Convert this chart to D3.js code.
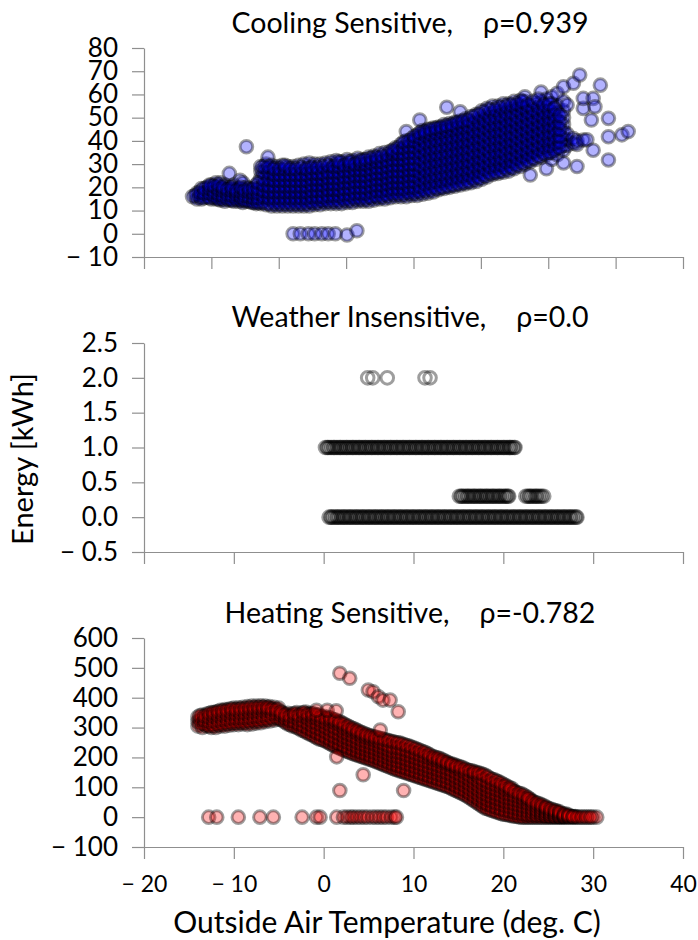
<!DOCTYPE html>
<html>
<head>
<meta charset="utf-8">
<script src="https://cdn.jsdelivr.net/npm/d3@7"></script>
<style>
  body { margin: 0; background: #fff; }
  svg text { font-family: Lato, "Open Sans", sans-serif; fill: #000; }
  .axis path, .axis line { stroke: #8f8f8f; stroke-width: 1.2; }
</style>
</head>
<body>
<div id="chart"></div>
<script>
// ---- data: [temperature, [energy values at that temperature]] ----
const coolingColumns = [
  [-14.6, [16]], [-14.1, [15, 17.5]], [-13.6, [15, 17, 19.5]], [-13.0, [16, 18, 20]],
  [-12.5, [15, 17, 19, 21]], [-12.0, [15, 16.5, 18, 20, 22]], [-11.5, [14.5, 16, 18, 20, 22]],
  [-11.0, [14, 16, 17.5, 19, 21]], [-10.5, [14.5, 16, 18, 20, 26]], [-10.0, [14, 15.5, 17, 19, 21]],
  [-9.5, [14, 16, 17.5, 19.5]], [-9.3, [23]], [-9.0, [13.5, 15, 17, 19, 22]], [-8.6, [14, 16, 18, 20, 37.5]],
  [-8.0, [13.5, 15, 17, 19]], [-7.5, [13, 14.5, 16.5, 18.5, 21]],
  [-7.0, [13, 15.5, 18, 24, 27, 29]], [-6.4, [12.5, 15, 17.5, 20, 22.5, 25.5, 28, 30]], [-6.2, [33]],
  [-5.8, [12, 14.5, 17, 19.5, 22, 25, 28, 29.5]], [-5.2, [12, 14, 16.5, 19, 21.5, 24, 26.5, 29]],
  [-4.6, [12, 14.5, 17, 19.5, 22, 24.5, 27, 29.5]], [-4.0, [12, 14, 16.5, 19, 21.5, 24, 26.5, 29]],
  [-3.4, [0, 12, 14.5, 17, 19.5, 22, 24.5, 27, 29]], [-2.8, [12, 14, 16.5, 19, 21.5, 24, 26.5, 29.5]],
  [-2.6, [0]], [-2.2, [12, 14.5, 17, 19.5, 22, 24.5, 27, 30]], [-1.7, [0]],
  [-1.6, [12, 14, 16.5, 19, 21.5, 24, 26.5, 29, 30.5]], [-1.0, [0, 12.5, 15, 17.5, 20, 22.5, 25, 27.5, 30]],
  [-0.4, [12.5, 14.5, 17, 19.5, 22, 24.5, 27, 30]], [-0.2, [0]], [0.2, [13, 15, 17.5, 20, 22.5, 25, 27.5, 30.5]],
  [0.5, [0]], [0.8, [13, 15.5, 18, 20.5, 23, 25.5, 28, 31]], [1.3, [0]],
  [1.4, [13, 15, 17.5, 20, 22.5, 25, 27.5, 30, 31.5]], [2.0, [13, 15.5, 18, 20.5, 23, 25.5, 28, 31]],
  [2.6, [-0.5, 13.5, 15.5, 18, 20.5, 23, 25.5, 28, 30.5, 32]], [3.2, [13.5, 16, 18.5, 21, 23.5, 26, 28.5, 31.5]],
  [3.7, [1.3]], [3.8, [14, 16, 18.5, 21, 23.5, 26, 28.5, 31, 32.5]], [4.4, [14, 16.5, 19, 21.5, 24, 26.5, 29, 32]],
  [5.0, [14, 16, 18.5, 21, 23.5, 26, 28.5, 31, 33]], [5.6, [14.5, 16.5, 19, 21.5, 24, 26.5, 29, 31.5, 33.5]],
  [6.2, [15, 17.5, 20, 22.5, 25, 27.5, 30, 32.5, 34.5]], [6.8, [15, 17, 19.5, 22, 24.5, 27, 29.5, 32, 35]],
  [7.4, [15.5, 18, 20.5, 23, 25.5, 28, 30.5, 33, 35.5]], [8.0, [16, 18, 20.5, 23, 25.5, 28, 30.5, 33, 35.5, 37]],
  [8.6, [16, 18.5, 21, 23.5, 26, 28.5, 31, 33.5, 36, 38.5]],
  [9.2, [16, 18, 20.5, 23, 25.5, 28, 30.5, 33, 35.5, 38, 40, 44]],
  [9.8, [16.5, 19, 21.5, 24, 26.5, 29, 31.5, 34, 36.5, 39, 41]],
  [10.4, [16.5, 18.5, 21, 23.5, 26, 28.5, 31, 33.5, 36, 38.5, 41, 42.5]], [10.7, [49]],
  [11.0, [17, 19.5, 22, 25, 28, 31, 34, 37, 40, 43, 44.5]],
  [11.6, [17.5, 20, 23, 26, 29, 32, 35, 38, 41, 43.5, 45]],
  [12.2, [18, 20.5, 23.5, 26.5, 29.5, 32.5, 35.5, 38.5, 41.5, 44, 45.5]],
  [12.8, [19, 21.5, 24.5, 27.5, 30.5, 33.5, 36.5, 39.5, 42.5, 45, 46]],
  [13.4, [19.5, 22, 25, 28, 31, 34, 37, 40, 43, 45.5, 47]], [13.7, [54.5]],
  [14.0, [20, 22.5, 25.5, 28.5, 31.5, 34.5, 37.5, 40.5, 43.5, 46, 47.5]],
  [14.6, [20.5, 23, 26, 29, 32, 35, 38, 41, 44, 46.5, 48]],
  [15.2, [21, 23.5, 26.5, 29.5, 32.5, 35.5, 38.5, 41.5, 44.5, 47, 48.5, 52.5]],
  [15.8, [21.5, 24, 27, 30, 33, 36, 39, 42, 45, 47.5, 49.5]],
  [16.4, [22, 24.5, 27.5, 30.5, 33.5, 36.5, 39.5, 42.5, 45.5, 48, 50.5]],
  [17.0, [22.5, 25, 28, 31, 34, 37, 40, 43, 46, 49, 51.5]],
  [17.6, [23.5, 26, 29, 32, 35, 38, 41, 44, 47, 50, 53]],
  [18.2, [24.5, 27, 30, 33, 36, 39, 42, 45, 48, 51, 54]],
  [18.8, [25.5, 28, 31, 34, 37, 40, 43, 46, 49, 52, 55]],
  [19.4, [26, 28.5, 31.5, 34.5, 37.5, 40.5, 43.5, 46.5, 49.5, 52.5, 55]],
  [20.0, [26.5, 29, 32, 35, 38, 41, 44, 47, 50, 53, 56]],
  [20.6, [27, 29.5, 32.5, 35.5, 38.5, 41.5, 44.5, 47.5, 50.5, 53.5, 56]],
  [21.2, [28, 30.5, 33.5, 36.5, 39.5, 42.5, 45.5, 48.5, 51.5, 54.5, 57]],
  [21.9, [29, 32, 35, 38, 41, 44, 47, 50, 53, 55.5, 57.5]],
  [22.4, [30, 33, 36, 39, 42, 45, 48, 51, 54, 57, 59]],
  [23.0, [25.3, 31, 34, 37, 40, 43, 46, 49, 52, 55]],
  [23.6, [32, 35, 38, 41, 44, 47, 50, 53, 56]],
  [24.2, [33, 36, 39, 42, 45, 48, 51, 54, 57, 61]],
  [24.8, [28, 34, 37, 40, 43, 46, 49, 52, 55, 58]],
  [25.4, [32, 35, 38, 41, 44, 47, 50, 53, 56, 59]],
  [26.0, [34, 37, 40, 43, 46, 49, 52, 55, 60.5]],
  [26.7, [30.5, 36, 38, 41, 44, 47, 50, 53, 57, 63.3]],
  [27.1, [38, 40.5, 43, 55.5]], [27.8, [39, 41, 64.8]], [28.2, [29, 38.5, 40]], [28.5, [68.4]],
  [28.9, [40.4, 54, 58.3]], [29.3, [40.5]], [29.8, [49]], [30.0, [36, 58.3]], [30.2, [54.7]],
  [30.8, [64]], [31.7, [31.8, 41.8, 49.7]], [33.2, [42.6]], [33.9, [44]]
];
// the in-between columns of the dense band
const coolingColumnsFill = [
  [-14.3, [16.5]], [-13.8, [16, 18]], [-13.3, [15.5, 17.5, 19.5]], [-12.7, [15.5, 17.5, 19.5, 21]],
  [-12.2, [16, 18, 20.5]], [-11.7, [15, 17, 19, 21]], [-11.2, [15, 16.5, 18.5, 20]], [-10.7, [15, 17, 19]],
  [-10.2, [14.5, 16.5, 18.5, 20]], [-9.7, [15, 17, 18.5]], [-9.2, [14.5, 16, 18, 20]], [-8.8, [14.5, 16.5, 18.5]],
  [-8.3, [14, 16, 18, 19.5]], [-7.8, [13.5, 15.5, 17.5, 19.5]], [-7.3, [13.5, 15.5, 17.5, 19.5, 22]],
  [-6.7, [13.5, 16, 18.5, 21, 23.5, 26.5, 29]], [-6.1, [13, 15.5, 18, 20.5, 23.5, 26.5, 29]],
  [-5.5, [13, 15.5, 18, 20.5, 23, 25.5, 28]], [-4.9, [13, 15.5, 18, 20.5, 23, 25.5, 28]],
  [-4.3, [13, 15.5, 18, 20.5, 23, 25.5, 28, 29.5]], [-3.7, [13, 15.5, 18, 20.5, 23, 25.5, 28]],
  [-3.1, [13, 15.5, 18, 20.5, 23, 25.5, 28]], [-2.5, [13, 15.5, 18, 20.5, 23, 25.5, 28.5]],
  [-1.9, [13, 15.5, 18, 20.5, 23, 25.5, 28]], [-1.3, [13.5, 16, 18.5, 21, 23.5, 26, 28.5]],
  [-0.7, [13.5, 16, 18.5, 21, 23.5, 26, 28.5]], [-0.1, [14, 16, 18.5, 21, 23.5, 26, 29]],
  [0.5, [14, 16.5, 19, 21.5, 24, 26.5, 29.5]], [1.1, [14, 16.5, 19, 21.5, 24, 26.5, 29]],
  [1.7, [14, 16.5, 19, 21.5, 24, 26.5, 29, 31]], [2.3, [14.5, 17, 19.5, 22, 24.5, 27, 29.5]],
  [2.9, [14.5, 17, 19.5, 22, 24.5, 27, 29.5, 31]], [3.5, [15, 17.5, 20, 22.5, 25, 27.5, 30]],
  [4.1, [15, 17.5, 20, 22.5, 25, 27.5, 30, 31.5]], [4.7, [15, 17.5, 20, 22.5, 25, 27.5, 30, 32]],
  [5.3, [15.5, 18, 20.5, 23, 25.5, 28, 30.5, 32.5]], [5.9, [16, 18.5, 21, 23.5, 26, 28.5, 31, 33]],
  [6.5, [16, 18.5, 21, 23.5, 26, 28.5, 31, 33.5]], [7.1, [16.5, 19, 21.5, 24, 26.5, 29, 31.5, 34]],
  [7.7, [17, 19.5, 22, 24.5, 27, 29.5, 32, 34.5, 36]], [8.3, [17, 19.5, 22, 24.5, 27, 29.5, 32, 34.5, 37]],
  [8.9, [17, 19.5, 22, 24.5, 27, 29.5, 32, 34.5, 37, 39.5]],
  [9.5, [17.5, 20, 22.5, 25, 27.5, 30, 32.5, 35, 37.5, 40]],
  [10.1, [17.5, 20, 22.5, 25, 27.5, 30, 32.5, 35, 37.5, 40, 42]],
  [10.7, [18, 20.5, 23.5, 26.5, 29.5, 32.5, 35.5, 38.5, 41.5, 43.5]],
  [11.3, [18.5, 21.5, 24.5, 27.5, 30.5, 33.5, 36.5, 39.5, 42.5, 44]],
  [11.9, [19, 22, 25, 28, 31, 34, 37, 40, 43, 45]],
  [12.5, [19.5, 22.5, 25.5, 28.5, 31.5, 34.5, 37.5, 40.5, 43.5, 45.5]],
  [13.1, [20, 23, 26, 29, 32, 35, 38, 41, 44, 46]],
  [13.7, [20.5, 23.5, 26.5, 29.5, 32.5, 35.5, 38.5, 41.5, 44.5, 46.5]],
  [14.3, [21, 24, 27, 30, 33, 36, 39, 42, 45, 47]],
  [14.9, [21.5, 24.5, 27.5, 30.5, 33.5, 36.5, 39.5, 42.5, 45.5, 48]],
  [15.5, [22, 25, 28, 31, 34, 37, 40, 43, 46, 48.5]],
  [16.1, [22.5, 25.5, 28.5, 31.5, 34.5, 37.5, 40.5, 43.5, 46.5, 49]],
  [16.7, [23.5, 26.5, 29.5, 32.5, 35.5, 38.5, 41.5, 44.5, 47.5, 50.5]],
  [17.3, [24, 27, 30, 33, 36, 39, 42, 45, 48, 51.5]],
  [17.9, [25, 28, 31, 34, 37, 40, 43, 46, 49, 52.5]],
  [18.5, [26, 29, 32, 35, 38, 41, 44, 47, 50, 53.5]],
  [19.1, [26.5, 29.5, 32.5, 35.5, 38.5, 41.5, 44.5, 47.5, 50.5, 53.5]],
  [19.7, [27, 30, 33, 36, 39, 42, 45, 48, 51, 54.5]],
  [20.3, [28, 31, 34, 37, 40, 43, 46, 49, 52, 55]],
  [20.9, [28.5, 31.5, 34.5, 37.5, 40.5, 43.5, 46.5, 49.5, 52.5, 55.5]],
  [21.5, [29.5, 32.5, 35.5, 38.5, 41.5, 44.5, 47.5, 50.5, 53.5, 56]],
  [22.1, [30.5, 33.5, 36.5, 39.5, 42.5, 45.5, 48.5, 51.5, 54.5, 57]],
  [22.7, [31.5, 34.5, 37.5, 40.5, 43.5, 46.5, 49.5, 52.5, 55.5]],
  [23.3, [32.5, 35.5, 38.5, 41.5, 44.5, 47.5, 50.5, 53.5, 57]],
  [23.9, [33.5, 36.5, 39.5, 42.5, 45.5, 48.5, 51.5, 54.5, 58]],
  [24.5, [34.5, 37.5, 40.5, 43.5, 46.5, 49.5, 52.5, 55.5]],
  [25.1, [35, 38, 41, 44, 47, 50, 53, 56]],
  [25.7, [36, 39, 42, 45, 48, 51, 54]],
  [26.3, [37, 39.5, 42, 45, 48, 51]]
];

const weatherTwo = [4.9, 5.46, 7.08, 11.28, 11.84];
const weatherOne = [0.2, 0.4, 0.5, 0.7, 0.9, 1.1, 1.2, 1.4, 1.6, 1.8, 1.9, 2.1, 2.3, 2.5, 2.6, 2.8,
  3.0, 3.2, 3.3, 3.5, 3.7, 3.9, 4.0, 4.2, 4.4, 4.6, 4.7, 4.9, 5.1, 5.3, 5.4, 5.6, 5.8, 6.0, 6.1, 6.3,
  6.5, 6.7, 6.8, 7.0, 7.2, 7.4, 7.5, 7.7, 7.9, 8.1, 8.2, 8.4, 8.6, 8.8, 8.9, 9.1, 9.3, 9.5, 9.6, 9.8,
  10.0, 10.2, 10.3, 10.5, 10.7, 10.9, 11.0, 11.2, 11.4, 11.6, 11.7, 11.9, 12.1, 12.3, 12.4, 12.6,
  12.8, 13.0, 13.1, 13.3, 13.5, 13.7, 13.8, 14.0, 14.2, 14.4, 14.5, 14.7, 14.9, 15.1, 15.2, 15.4,
  15.6, 15.8, 15.9, 16.1, 16.3, 16.5, 16.6, 16.8, 17.0, 17.2, 17.3, 17.5, 17.7, 17.9, 18.0, 18.2,
  18.4, 18.6, 18.7, 18.9, 19.1, 19.3, 19.4, 19.6, 19.8, 20.0, 20.1, 20.3, 20.5, 20.7, 20.8, 21.0,
  21.2, 21.3];
const weatherPoint3 = [15.1, 15.3, 15.4, 15.6, 15.8, 16.0, 16.1, 16.3, 16.5, 16.7, 16.8, 17.0, 17.2,
  17.4, 17.5, 17.7, 17.9, 18.1, 18.2, 18.4, 18.6, 18.8, 18.9, 19.1, 19.3, 19.5, 19.6, 19.8, 20.0,
  20.2, 20.3, 20.5, 20.6, 22.5, 22.7, 22.9, 23.0, 23.2, 23.4, 23.6, 23.7, 23.9, 24.1, 24.3, 24.5];
const weatherZero = [0.6, 0.8, 0.9, 1.1, 1.3, 1.5, 1.6, 1.8, 2.0, 2.2, 2.3, 2.5, 2.7, 2.9, 3.0, 3.2,
  3.4, 3.6, 3.7, 3.9, 4.1, 4.3, 4.4, 4.6, 4.8, 5.0, 5.1, 5.3, 5.5, 5.7, 5.8, 6.0, 6.2, 6.4, 6.5, 6.7,
  6.9, 7.1, 7.2, 7.4, 7.6, 7.8, 7.9, 8.1, 8.3, 8.5, 8.6, 8.8, 9.0, 9.2, 9.3, 9.5, 9.7, 9.9, 10.0,
  10.2, 10.4, 10.6, 10.7, 10.9, 11.1, 11.3, 11.4, 11.6, 11.8, 12.0, 12.1, 12.3, 12.5, 12.7, 12.8,
  13.0, 13.2, 13.4, 13.5, 13.7, 13.9, 14.1, 14.2, 14.4, 14.6, 14.8, 14.9, 15.1, 15.3, 15.5, 15.6,
  15.8, 16.0, 16.2, 16.3, 16.5, 16.7, 16.9, 17.0, 17.2, 17.4, 17.6, 17.7, 17.9, 18.1, 18.3, 18.4,
  18.6, 18.8, 19.0, 19.1, 19.3, 19.5, 19.7, 19.8, 20.0, 20.2, 20.4, 20.5, 20.7, 20.9, 21.1, 21.2,
  21.4, 21.6, 21.8, 21.9, 22.1, 22.3, 22.5, 22.6, 22.8, 23.0, 23.2, 23.3, 23.5, 23.7, 23.9, 24.0,
  24.2, 24.4, 24.6, 24.7, 24.9, 25.1, 25.3, 25.4, 25.6, 25.8, 26.0, 26.1, 26.3, 26.5, 26.7, 26.8,
  27.0, 27.2, 27.4, 27.5, 27.7, 27.9, 28.1, 28.2];

const heatingColumns = [
  [-14.0, [305, 320, 335]], [-13.5, [300, 315, 330, 342]], [-13.0, [305, 318, 332, 345]],
  [-12.5, [300, 312, 326, 340, 350]], [-12.0, [300, 315, 330, 345, 352]], [-11.5, [305, 318, 332, 346, 358]],
  [-11.0, [305, 320, 335, 350, 360]], [-10.5, [308, 322, 336, 350, 362]], [-10.0, [310, 325, 340, 355, 365]],
  [-9.5, [310, 324, 338, 352, 366]], [-9.0, [312, 326, 340, 355, 368]], [-8.5, [310, 325, 340, 355, 370]],
  [-8.0, [312, 327, 342, 357, 372]], [-7.5, [315, 330, 345, 360, 372]], [-7.0, [316, 330, 345, 360, 373]],
  [-6.5, [320, 334, 348, 362, 372]], [-6.0, [322, 336, 350, 364, 370]], [-5.5, [325, 340, 355, 368]],
  [-5.0, [328, 342, 356, 365]], [-4.5, [322, 335, 348]], [-4.0, [312, 325, 338, 348]],
  [-3.5, [305, 318, 332, 345]], [-3.0, [300, 314, 328, 342, 350]], [-2.5, [292, 306, 320, 334, 348]],
  [-2.0, [285, 300, 315, 330, 345, 352]], [-1.5, [278, 292, 306, 320, 334, 348]],
  [-1.0, [270, 285, 300, 315, 330, 345]], [-0.5, [262, 278, 294, 310, 326, 342]],
  [0.0, [258, 272, 286, 300, 315, 330, 338]], [0.5, [250, 264, 278, 294, 310, 324, 334]],
  [1.0, [242, 256, 270, 285, 300, 315, 328]], [1.5, [235, 250, 265, 280, 296, 312, 322]],
  [2.0, [228, 242, 256, 270, 285, 300, 316]], [2.5, [222, 236, 250, 265, 280, 295, 308]],
  [3.0, [216, 230, 245, 260, 275, 290, 300]], [3.5, [210, 224, 238, 254, 270, 284, 294]],
  [4.0, [205, 218, 232, 246, 260, 274, 286]], [4.5, [200, 214, 228, 242, 256, 270, 280]],
  [5.0, [195, 208, 222, 236, 250, 264, 274]], [5.5, [190, 204, 218, 232, 246, 260, 270]],
  [6.0, [184, 198, 212, 226, 240, 254, 266]], [6.5, [178, 192, 206, 220, 234, 248, 262]],
  [7.0, [172, 186, 200, 214, 228, 242, 258]], [7.5, [166, 180, 194, 208, 222, 236, 254]],
  [8.0, [160, 174, 188, 202, 216, 230, 250]], [8.5, [155, 170, 186, 202, 218, 234, 248]],
  [9.0, [150, 165, 180, 195, 210, 225, 242]], [9.5, [145, 160, 176, 192, 208, 224, 238]],
  [10.0, [140, 155, 170, 185, 200, 215, 232]], [10.5, [135, 150, 166, 182, 198, 214, 226]],
  [11.0, [130, 145, 160, 175, 190, 205, 220]], [11.5, [125, 140, 156, 172, 188, 204, 214]],
  [12.0, [120, 135, 150, 165, 180, 195, 205]], [12.5, [115, 130, 146, 162, 178, 192, 200]],
  [13.0, [110, 125, 140, 155, 170, 185, 195]], [13.5, [105, 120, 136, 152, 168, 182, 188]],
  [14.0, [100, 115, 130, 145, 160, 175, 180]], [14.5, [92, 108, 124, 140, 156, 170, 176]],
  [15.0, [85, 100, 115, 130, 145, 160, 170]], [15.5, [78, 94, 110, 126, 142, 156, 165]],
  [16.0, [70, 85, 100, 115, 130, 145, 158]], [16.5, [60, 76, 92, 108, 124, 140, 155]],
  [17.0, [50, 65, 80, 95, 110, 125, 140, 150]], [17.5, [40, 56, 72, 88, 104, 120, 135, 146]],
  [18.0, [30, 45, 60, 75, 90, 105, 120, 140]], [18.5, [25, 40, 55, 70, 85, 100, 115, 130]],
  [19.0, [20, 35, 50, 65, 80, 95, 110, 125]], [19.5, [15, 30, 45, 60, 75, 90, 105, 118]],
  [20.0, [10, 25, 40, 55, 70, 85, 100, 110]], [20.5, [8, 22, 36, 50, 64, 78, 92, 102]],
  [21.0, [5, 18, 32, 46, 60, 74, 88, 95]], [21.5, [2, 15, 28, 42, 56, 70, 82]],
  [22.0, [0, 12, 25, 38, 52, 65, 78]], [22.5, [0, 10, 22, 35, 48, 60, 70]],
  [23.0, [0, 10, 20, 32, 44, 56, 60]], [23.5, [0, 8, 18, 28, 40, 50]], [24.0, [0, 8, 16, 25, 35, 45]],
  [24.5, [0, 6, 14, 22, 30, 38]], [25.0, [0, 5, 12, 20, 30]], [25.5, [0, 4, 10, 18, 25]],
  [26.0, [0, 3, 8, 15, 20]], [26.5, [0, 2, 6, 12]], [27.0, [0, 4, 10]], [27.5, [0, 3]],
  [28.0, [0, 2]], [28.5, [0]], [29.0, [0]], [29.5, [0]], [30.0, [0]], [30.4, [0]]
];
// the in-between columns of the dense band
const heatingColumnsFill = [
  [-13.75, [312, 327, 340]], [-13.25, [310, 324, 338]], [-12.75, [306, 320, 334, 347]],
  [-12.25, [307, 322, 337, 350]], [-11.75, [310, 325, 340, 354]], [-11.25, [312, 327, 342, 356]],
  [-10.75, [314, 329, 344, 358]], [-10.25, [316, 332, 348, 362]], [-9.75, [317, 332, 346, 360]],
  [-9.25, [318, 333, 348, 362]], [-8.75, [318, 333, 348, 363]], [-8.25, [320, 335, 350, 365]],
  [-7.75, [322, 337, 352, 366]], [-7.25, [323, 338, 353, 367]], [-6.75, [326, 341, 356, 368]],
  [-6.25, [328, 343, 357, 367]], [-5.75, [332, 347, 361]], [-5.25, [334, 348, 360]],
  [-4.75, [328, 342, 352]], [-4.25, [318, 331, 343]], [-3.75, [310, 324, 338]],
  [-3.25, [306, 320, 335, 347]], [-2.75, [298, 312, 326, 340]], [-2.25, [290, 306, 322, 338, 350]],
  [-1.75, [282, 298, 314, 330, 344]], [-1.25, [275, 290, 305, 320, 335, 346]],
  [-0.75, [266, 282, 298, 314, 330, 342]], [-0.25, [260, 276, 292, 308, 322, 336]],
  [0.25, [254, 268, 284, 300, 316, 330]], [0.75, [246, 260, 276, 292, 308, 322, 332]],
  [1.25, [238, 252, 268, 284, 300, 316, 326]], [1.75, [232, 246, 262, 278, 294, 310, 320]],
  [2.25, [225, 239, 254, 269, 284, 299, 312]], [2.75, [219, 233, 248, 263, 278, 292, 304]],
  [3.25, [213, 227, 242, 257, 272, 287, 297]], [3.75, [208, 221, 235, 250, 265, 280, 290]],
  [4.25, [203, 216, 230, 244, 258, 272, 283]], [4.75, [198, 211, 225, 239, 253, 267, 277]],
  [5.25, [193, 206, 220, 234, 248, 262, 272]], [5.75, [187, 201, 215, 229, 243, 257, 268]],
  [6.25, [181, 195, 209, 223, 237, 251, 264]], [6.75, [175, 189, 203, 217, 231, 245, 260]],
  [7.25, [169, 183, 197, 211, 225, 239, 256]], [7.75, [163, 177, 191, 205, 219, 233, 252]],
  [8.25, [158, 172, 187, 202, 217, 232, 249]], [8.75, [153, 168, 183, 198, 213, 228, 245]],
  [9.25, [148, 163, 178, 193, 208, 223, 240]], [9.75, [143, 158, 173, 188, 203, 218, 235]],
  [10.25, [138, 153, 168, 183, 198, 213, 229]], [10.75, [133, 148, 163, 178, 193, 208, 223]],
  [11.25, [128, 143, 158, 173, 188, 203, 217]], [11.75, [123, 138, 153, 168, 183, 198, 210]],
  [12.25, [118, 133, 148, 163, 178, 193, 202]], [12.75, [113, 128, 143, 158, 173, 188, 198]],
  [13.25, [108, 123, 138, 153, 168, 182, 191]], [13.75, [103, 118, 133, 148, 163, 177, 184]],
  [14.25, [96, 112, 127, 142, 157, 172, 178]], [14.75, [89, 104, 119, 134, 149, 164, 172]],
  [15.25, [82, 97, 112, 127, 142, 157, 168]], [15.75, [74, 89, 104, 119, 134, 149, 161]],
  [16.25, [65, 80, 95, 110, 125, 140, 156]], [16.75, [55, 70, 85, 100, 115, 130, 145, 152]],
  [17.25, [45, 60, 75, 90, 105, 120, 135, 148]], [17.75, [35, 50, 65, 80, 95, 110, 125, 143]],
  [18.25, [28, 43, 58, 73, 88, 103, 118, 135]], [18.75, [22, 37, 52, 67, 82, 97, 112, 127]],
  [19.25, [17, 32, 47, 62, 77, 92, 107, 121]], [19.75, [12, 27, 42, 57, 72, 87, 102, 114]],
  [20.25, [9, 23, 37, 51, 65, 79, 93, 106]], [20.75, [6, 20, 34, 48, 62, 76, 90, 98]],
  [21.25, [3, 16, 30, 44, 58, 72, 86]], [21.75, [1, 13, 26, 40, 54, 68, 80]],
  [22.25, [0, 11, 23, 36, 50, 62, 74]], [22.75, [0, 9, 21, 33, 46, 58, 65]],
  [23.25, [0, 9, 19, 30, 42, 53]], [23.75, [0, 7, 17, 26, 37, 47]], [24.25, [0, 7, 15, 23, 32, 41]],
  [24.75, [0, 5, 13, 21, 29, 34]], [25.25, [0, 4, 11, 19, 27]], [25.75, [0, 3, 9, 16, 22]],
  [26.25, [0, 2, 7, 13, 18]], [26.75, [0, 2, 5, 10]], [27.25, [0, 3, 7]], [27.75, [0, 2]],
  [28.25, [0]], [28.75, [0]], [29.25, [0]], [29.75, [0]]
];
const heatingOutliers = [
  [1.8, 482], [2.9, 465], [4.97, 426], [5.5, 420], [6.1, 403], [6.6, 392], [7.4, 392], [8.3, 353],
  [4.4, 142], [1.8, 89], [8.9, 89], [1.45, 202], [-0.8, 358], [0.4, 358], [1.4, 356], [6.3, 292]
];
const heatingZero = [-12.8, -11.9, -9.5, -7.1, -5.6, -2.4, -0.8, -0.4, 1.45, 2.2, 2.6, 3.0, 3.3, 3.7,
  4.1, 4.5, 4.9, 5.4, 5.8, 6.2, 6.6, 7.0, 7.5, 7.9, 8.1];

const coolYTicks = [-10, 0, 10, 20, 30, 40, 50, 60, 70, 80];
const weatherYTicks = [-0.5, 0, 0.5, 1.0, 1.5, 2.0, 2.5];
const heatingYTicks = [-100, 0, 100, 200, 300, 400, 500, 600];
const coolXTicks = [-20, -12.5, -5, 2.5, 10, 17.5, 25, 32.5, 40];
const xTicks = [-20, -10, 0, 10, 20, 30, 40];

// ---- flatten ----
const fromColumns = cols => cols.flatMap(([t, vals]) => vals.map(v => [t, v]));
const coolingPoints = [...fromColumns(coolingColumns), ...fromColumns(coolingColumnsFill)];
const weatherPoints = [
  ...weatherZero.map(t => [t, 0]),
  ...weatherPoint3.map(t => [t, 0.3]),
  ...weatherOne.map(t => [t, 1.0]),
  ...weatherTwo.map(t => [t, 2.0])
];
const heatingPoints = [
  ...heatingZero.map(t => [t, 0]),
  ...fromColumns(heatingColumns),
  ...fromColumns(heatingColumnsFill),
  ...heatingOutliers
];

// ---- layout ----
const W = 698, H = 940;
const svg = d3.select("#chart").append("svg").attr("width", W).attr("height", H);
const x = d3.scaleLinear().domain([-20, 40]).range([144, 683]);

const minusFmt = dec => d => {
  const s = Math.abs(d).toFixed(dec);
  return d < 0 ? "\u2212 " + s : s;
};

const panels = [
  {title: "Cooling Sensitive,", rho: "\u03c1=0.939", titleY: 33, domain: [-10, 80], range: [257, 48],
   yTicks: coolYTicks, xt: coolXTicks, fmt: minusFmt(0), data: coolingPoints, fill: "#0000ff", labels: false},
  {title: "Weather Insensitive,", rho: "\u03c1=0.0", titleY: 327, domain: [-0.5, 2.5], range: [552, 343],
   yTicks: weatherYTicks, xt: xTicks, fmt: minusFmt(1), data: weatherPoints, fill: "none", labels: false},
  {title: "Heating Sensitive,", rho: "\u03c1=-0.782", titleY: 623, domain: [-100, 600], range: [847, 638],
   yTicks: heatingYTicks, xt: xTicks, fmt: minusFmt(0), data: heatingPoints, fill: "#ff0000", labels: true}
];

panels.forEach(p => {
  const y = d3.scaleLinear().domain(p.domain).range(p.range);
  const g = svg.append("g");

  g.append("g").selectAll("circle")
    .data(p.data)
    .join("circle")
    .attr("cx", d => x(d[0]))
    .attr("cy", d => y(d[1]))
    .attr("r", 6.3)
    .attr("fill", p.fill)
    .attr("fill-opacity", 0.3)
    .attr("stroke", "#000")
    .attr("stroke-opacity", 0.38)
    .attr("stroke-width", 3);

  g.append("g")
    .attr("class", "axis")
    .attr("transform", "translate(144,0)")
    .call(d3.axisLeft(y).tickValues(p.yTicks).tickFormat(p.fmt)
      .tickSize(12).tickSizeOuter(0).tickPadding(14))
    .attr("font-size", 26);

  const xa = d3.axisBottom(x).tickValues(p.xt).tickSize(12).tickSizeOuter(0).tickPadding(17)
    .tickFormat(p.labels ? minusFmt(0) : "");
  g.append("g")
    .attr("class", "axis")
    .attr("transform", `translate(0,${p.range[0]})`)
    .call(xa)
    .attr("font-size", 23);

  const t = g.append("text")
    .attr("x", 410)
    .attr("y", p.titleY)
    .attr("text-anchor", "middle")
    .attr("font-size", 28.5);
  t.append("tspan").text(p.title);
  t.append("tspan").attr("dx", 30).text(p.rho);
});

svg.append("text")
  .attr("x", 387)
  .attr("y", 933)
  .attr("text-anchor", "middle")
  .attr("font-size", 30)
  .text("Outside Air Temperature (deg. C)");

svg.append("text")
  .attr("transform", "translate(33,459) rotate(-90)")
  .attr("text-anchor", "middle")
  .attr("font-size", 29)
  .text("Energy [kWh]");
</script>
</body>
</html>
